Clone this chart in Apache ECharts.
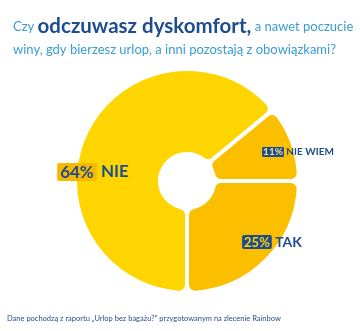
<!DOCTYPE html>
<html>
<head>
<meta charset="utf-8">
<script src="https://cdn.jsdelivr.net/npm/echarts@6/dist/echarts.min.js"></script>
<style>
  html, body { margin: 0; padding: 0; background: #fff; }
  #main { width: 360px; height: 331px; }
</style>
</head>
<body>
<div id="main"></div>
<script>
// dane z raportu
var categories = ['TAK', 'NIE', 'NIE WIEM'];
var values = [25, 64, 11];
var percentLabels = ['25%', '64%', '11%'];

var myChart = echarts.init(document.getElementById('main'));

var navy = '#1d4c8f';
var sliceColors = ['#fbbf00', '#ffd500', '#fbbf00'];
// pozycje etykiet (środek tekstu)
var labelPos = [[272, 242], [93, 172], [298, 152]];

var seriesData = [];
for (var i = 0; i < categories.length; i++) {
    seriesData.push({
        name: categories[i],
        value: values[i],
        itemStyle: { color: sliceColors[i] },
        label: {
            formatter: (i == 1 ? '{pb|' : (i == 0 ? '{pn|' : '{ps|')) + percentLabels[i] + '}' +
                (i == 2 ? '{ns| ' : (i == 0 ? '{nm| ' : '{nb| ')) + categories[i] + '}'
        }
    });
}

option = {
    animation: false,
    title: {
        left: 8,
        top: 10,
        text: '{a|Czy }{b|odczuwasz dyskomfort,}{a| a nawet poczucie}\n{a|winy, gdy bierzesz urlop, a inni pozostają z obowiązkami?}',
        textStyle: {
            rich: {
                a: { fontFamily: 'Lato', fontSize: 13, fontWeight: 'normal', color: '#3a9bd2', lineHeight: 23 },
                b: { fontFamily: 'Lato', fontSize: 20.5, fontWeight: 'bold', color: navy, lineHeight: 23 }
            }
        }
    },
    graphic: [{
        type: 'text',
        left: 7,
        top: 315,
        style: {
            text: 'Dane pochodzą z raportu „Urlop bez bagażu?” przygotowanym na zlecenie Rainbow',
            fontFamily: 'Lato',
            fontSize: 7.5,
            fill: '#2b4c8c'
        }
    }],
    series: [{
        type: 'pie',
        center: [187, 181],
        radius: [27, 112],
        startAngle: 0,
        clockwise: true,
        itemStyle: {
            borderColor: '#fff',
            borderWidth: 4,
            borderRadius: 8
        },
        label: {
            position: 'inside',
            fontFamily: 'Lato',
            rich: {
                pb: { fontSize: 17, fontWeight: 'bold', color: navy, backgroundColor: '#f7b900', borderRadius: 2, padding: [1, 3, 0, 3] },
                nb: { fontSize: 17, fontWeight: 'bold', color: navy },
                pn: { fontSize: 13, fontWeight: 'bold', color: '#ffd200', backgroundColor: navy, borderRadius: 2, padding: [1, 2, 0, 2] },
                nm: { fontSize: 14, fontWeight: 'bold', color: navy },
                ps: { fontSize: 10, fontWeight: 'bold', color: '#f4dc8a', backgroundColor: navy, borderRadius: 1, padding: [0, 1, 0, 1] },
                ns: { fontSize: 10, fontWeight: 'bold', color: navy }
            }
        },
        labelLine: { show: false },
        labelLayout: function(params) {
            var p = labelPos[params.dataIndex];
            return { x: p[0], y: p[1], align: 'center', verticalAlign: 'middle' };
        },
        data: seriesData
    }]
};
myChart.setOption(option);
</script>
</body>
</html>
